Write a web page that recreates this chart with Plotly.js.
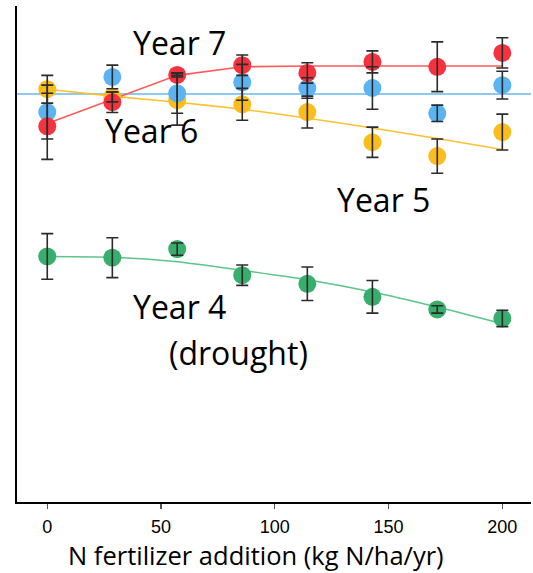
<!DOCTYPE html>
<html>
<head>
<meta charset="utf-8">
<script src="https://cdn.plot.ly/plotly-3.0.1.min.js"></script>
<style>html,body{margin:0;padding:0;background:#fff;}#chart{width:533px;height:573px;}</style>
</head>
<body>
<div id="chart"></div>
<script>
// N fertilizer addition (kg N/ha/yr) as placed in the figure
var nRates = [0, 28.6, 57.1, 85.7, 114.3, 142.9, 171.4, 200];
// Yield relative to control (control = 100)
var controlLevel = 100;
var year7 = [92.1, 98.0, 104.7, 107.1, 105.2, 107.9, 106.7, 110.1];
var year7Err = [8.1, 2.5, 0.5, 2.5, 2.5, 2.7, 6.1, 3.7];
var year7Fit = [92.8, 98.7, 104.6, 106.7, 106.9, 106.9, 106.9, 106.9];
var year6 = [95.6, 104.2, 100.2, 102.9, 101.5, 101.5, 95.3, 102.2];
var year6Err = [6.6, 2.9, 4.9, 4.4, 2.5, 5.2, 2.0, 3.4];
var year5 = [101.2, 99.3, 98.5, 97.5, 95.6, 88.2, 84.8, 90.7];
var year5Err = [3.4, 1.2, 6.1, 3.9, 3.9, 3.7, 4.2, 4.4];
var year5Fit = [101.2, 99.5, 98.0, 96.3, 94.1, 91.7, 89.1, 86.4];
var year4 = [60.2, 59.9, 62.0, 55.6, 53.5, 50.3, 47.2, 45.0];
var year4Err = [5.6, 4.9, 1.5, 2.5, 4.1, 4.0, 0.9, 2.0];
var year4Fit = [60.2, 60.0, 58.9, 56.8, 54.5, 51.5, 47.8, 43.7];
var xTicks = [0, 50, 100, 150, 200];

var RED = '#f5333f', BLUE = '#5cb3f2', GOLD = '#fbbd1e', GREEN = '#37ae6b';

function fitLine(y, color, shape) {
  return {x: nRates, y: y, mode: 'lines', line: {color: color, width: 1.6, shape: shape, smoothing: 0.6}, hoverinfo: 'skip', showlegend: false};
}
function pts(y, color) {
  return {x: nRates, y: y, mode: 'markers', marker: {size: 18, color: color, line: {width: 0}}, showlegend: false};
}
function errs(y, e) {
  return {x: nRates, y: y, mode: 'markers', marker: {size: 1, color: 'rgba(0,0,0,0)'},
    error_y: {type: 'data', array: e, visible: true, color: '#2b2b2b', thickness: 1.6, width: 6}, hoverinfo: 'skip', showlegend: false};
}

var data = [
  fitLine(year4Fit, '#5cc58c', 'spline'),
  fitLine(year5Fit, '#fcc12e', 'spline'),
  fitLine(year7Fit, '#ff5b5b', 'linear'),
  pts(year4, GREEN), pts(year5, GOLD), pts(year6, BLUE), pts(year7, RED),
  errs(year4, year4Err), errs(year5, year5Err), errs(year6, year6Err), errs(year7, year7Err)
];

var annFont = {family: 'Open Sans, sans-serif', size: 32, color: '#000'};
function ann(text, x, y, font) {
  return {text: text, xref: 'paper', yref: 'paper', x: x, y: y, xanchor: 'center', yanchor: 'middle', showarrow: false, font: font || annFont};
}
var layout = {
  width: 533, height: 573,
  margin: {l: 17, r: 2, t: 6, b: 71},
  paper_bgcolor: '#fff', plot_bgcolor: '#fff',
  showlegend: false,
  xaxis: {range: [-13.3, 212.6], showgrid: false, zeroline: false, showline: true, linecolor: '#000', linewidth: 1.6,
    ticks: 'outside', ticklen: 5, tickwidth: 1.3, tickcolor: '#555', tickvals: xTicks, ticktext: xTicks.map(String),
    ticklabelstandoff: 3,
    tickfont: {family: 'Liberation Sans, Arial, sans-serif', size: 18, color: '#000'}},
  yaxis: {range: [0, 121.6], showgrid: false, zeroline: false, showline: true, linecolor: '#000', linewidth: 1.6,
    ticks: '', showticklabels: false},
  shapes: [{type: 'line', xref: 'paper', x0: 0, x1: 1, yref: 'y', y0: controlLevel, y1: controlLevel,
    line: {color: '#8ccaf5', width: 2}, layer: 'below'}],
  annotations: [
    ann('Year 7', 0.317, 0.927),
    ann('Year 6', 0.261, 0.750),
    ann('Year 5', 0.714, 0.610),
    ann('Year 4', 0.317, 0.395),
    ann('(drought)', 0.43, 0.302),
    ann('N fertilizer addition (kg N/ha/yr)', 0.465, -0.107, {family: 'Open Sans, sans-serif', size: 25.5, color: '#000'})
  ]
};
Plotly.newPlot('chart', data, layout, {displayModeBar: false, staticPlot: true});
</script>
</body>
</html>
